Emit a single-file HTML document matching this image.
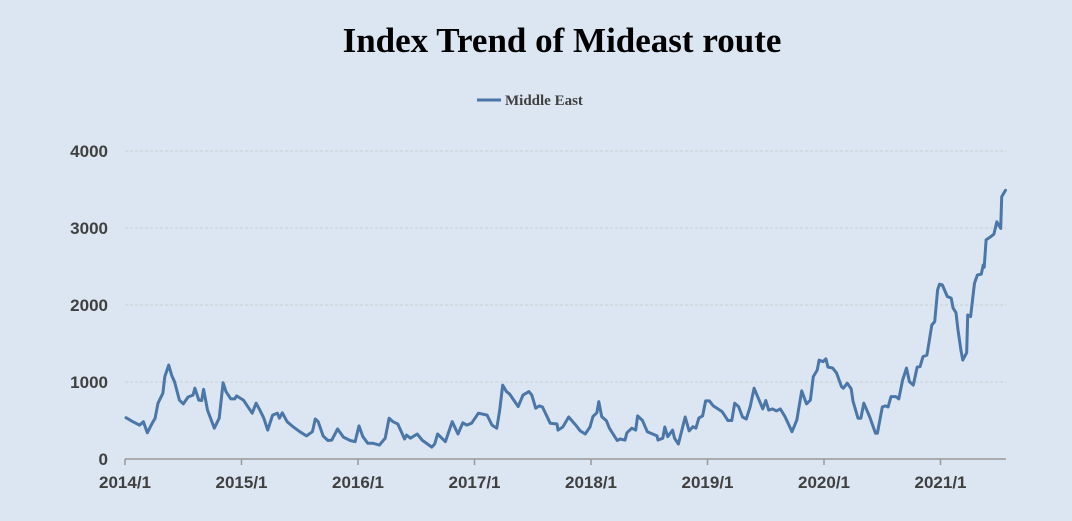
<!DOCTYPE html>
<html><head><meta charset="utf-8"><style>
html,body{margin:0;padding:0;background:#dce6f2;}
svg{display:block;}
</style></head><body>
<svg width="1072" height="521" xmlns="http://www.w3.org/2000/svg">
<rect width="1072" height="521" fill="#dce6f2"/>
<text x="562" y="52" text-anchor="middle" font-family="Liberation Serif, serif" font-weight="bold" font-size="35" fill="#000">Index Trend of Mideast route</text>
<g>
<line x1="477" y1="100" x2="501" y2="100" stroke="#4a76a8" stroke-width="3"/>
<text x="505" y="105" font-family="Liberation Serif, serif" font-weight="bold" font-size="15" fill="#404040">Middle East</text>
</g>
<g id="grid"></g>
<g id="yaxis"></g>
<g id="xaxis"></g>
<g id="plot"></g>
</svg>
<script>
const months = [0.1,0.8,1.5,1.9,2.3,2.8,3.1,3.4,3.9,4.1,4.5,4.8,5.1,5.6,6.0,6.5,7.0,7.2,7.6,7.9,8.1,8.5,9.2,9.7,10.1,10.4,10.9,11.3,11.5,12.2,13.1,13.5,13.9,14.3,14.7,15.2,15.7,15.9,16.2,16.7,17.2,18.0,18.7,19.3,19.6,19.9,20.4,20.9,21.3,21.9,22.5,23.2,23.7,24.1,24.5,25.0,25.5,26.2,26.8,27.2,27.6,28.1,28.8,29.0,29.4,30.1,30.6,31.6,31.9,32.2,33.0,33.7,34.3,34.8,35.2,35.7,36.4,37.3,37.8,38.3,38.6,38.9,39.3,39.6,40.5,41.0,41.6,41.9,42.3,42.7,43.0,43.8,44.5,44.6,45.1,45.7,46.5,46.9,47.4,47.9,48.2,48.6,48.8,49.1,49.6,49.9,50.7,51.0,51.5,51.7,52.2,52.6,52.8,53.3,53.8,54.8,54.9,55.4,55.6,55.9,56.4,56.6,57.0,57.7,58.1,58.5,58.8,59.1,59.5,59.8,60.2,60.6,61.5,62.1,62.5,62.8,63.2,63.6,64.0,64.4,64.8,65.7,66.0,66.3,66.7,67.1,67.5,68.0,68.7,69.2,69.7,70.2,70.6,70.9,71.3,71.5,71.9,72.2,72.4,72.9,73.3,73.8,74.0,74.4,74.8,75.0,75.5,75.8,76.1,76.7,77.3,77.5,78.0,78.3,78.6,78.9,79.4,79.7,80.1,80.5,80.8,81.2,81.6,81.9,82.2,82.6,82.8,83.1,83.4,83.7,83.9,84.2,84.7,85.1,85.3,85.6,85.8,86.1,86.3,86.7,86.8,87.1,87.5,87.8,88.2,88.4,88.5,88.7,89.1,89.5,89.8,90.2,90.3,90.7];
const values = [536,485,440,485,340,465,530,725,855,1070,1220,1090,1005,765,715,805,830,920,765,760,905,635,400,530,990,875,780,780,820,765,595,725,635,530,375,570,595,530,600,485,430,355,300,355,520,485,300,240,245,390,285,240,225,430,290,205,205,180,270,530,485,455,260,310,270,325,245,155,195,325,225,485,325,470,440,465,595,570,440,400,635,960,875,845,680,830,875,830,660,690,675,465,455,375,415,545,430,365,325,415,550,600,745,550,495,400,240,260,245,340,400,375,560,500,355,300,245,270,415,290,375,270,195,545,365,420,400,530,560,755,755,690,615,500,500,725,680,545,520,680,920,650,760,635,650,625,650,545,355,505,885,715,765,1070,1155,1285,1265,1300,1195,1180,1115,940,920,985,910,745,530,530,725,550,335,335,675,690,675,810,810,780,1025,1180,1005,960,1195,1200,1330,1350,1505,1740,1785,2195,2270,2260,2110,2090,1960,1900,1675,1415,1285,1380,1870,1850,2285,2390,2400,2520,2490,2845,2880,2920,3080,2995,3405,3490];
const yTicks = [0,1000,2000,3000,4000];
const xTickLabels = ["2014/1","2015/1","2016/1","2017/1","2018/1","2019/1","2020/1","2021/1"];
const NS="http://www.w3.org/2000/svg";
const X0=125, PXM=116.5/12, Y0=459, PXV=0.077;
const xs = m => X0 + m*PXM;
const ys = v => Y0 - v*PXV;
function mk(tag, attrs, parent){const e=document.createElementNS(NS,tag);for(const k in attrs)e.setAttribute(k,attrs[k]);parent.appendChild(e);return e;}
const grid=document.getElementById('grid'), ya=document.getElementById('yaxis'), xa=document.getElementById('xaxis'), plot=document.getElementById('plot');
yTicks.forEach(v=>{
  if(v>0){
    const g=mk('line',{x1:X0,x2:1006,y1:ys(v),y2:ys(v),stroke:'#c9cdd2','stroke-width':1,'stroke-dasharray':'3,2'},grid);
    
    
  }
  const t=mk('text',{x:108,y:ys(v)+6,'text-anchor':'end','font-family':'Liberation Sans, sans-serif','font-weight':'bold','font-size':17,fill:'#404040'},ya);
  t.textContent=v;
  
  
});
const ax=mk('line',{x1:X0,x2:1006,y1:Y0,y2:Y0,stroke:'#999','stroke-width':1.5},xa);


xTickLabels.forEach((lab,i)=>{
  const x=xs(i*12);
  const tk=mk('line',{x1:x,x2:x,y1:Y0,y2:Y0+6,stroke:'#999','stroke-width':1.5},xa);
  
  
  const t=mk('text',{x:x,y:488,'text-anchor':'middle','font-family':'Liberation Sans, sans-serif','font-weight':'bold','font-size':17,fill:'#404040'},xa);
  t.textContent=lab;
  
  
});
const d=months.map((m,i)=>(i?'L':'M')+xs(m).toFixed(1)+','+ys(values[i]).toFixed(1)).join(' ');
const p=mk('path',{d:d,fill:'none',stroke:'#4a76a8','stroke-width':3,'stroke-linejoin':'round','stroke-linecap':'round'},plot);


</script>
</body></html>
